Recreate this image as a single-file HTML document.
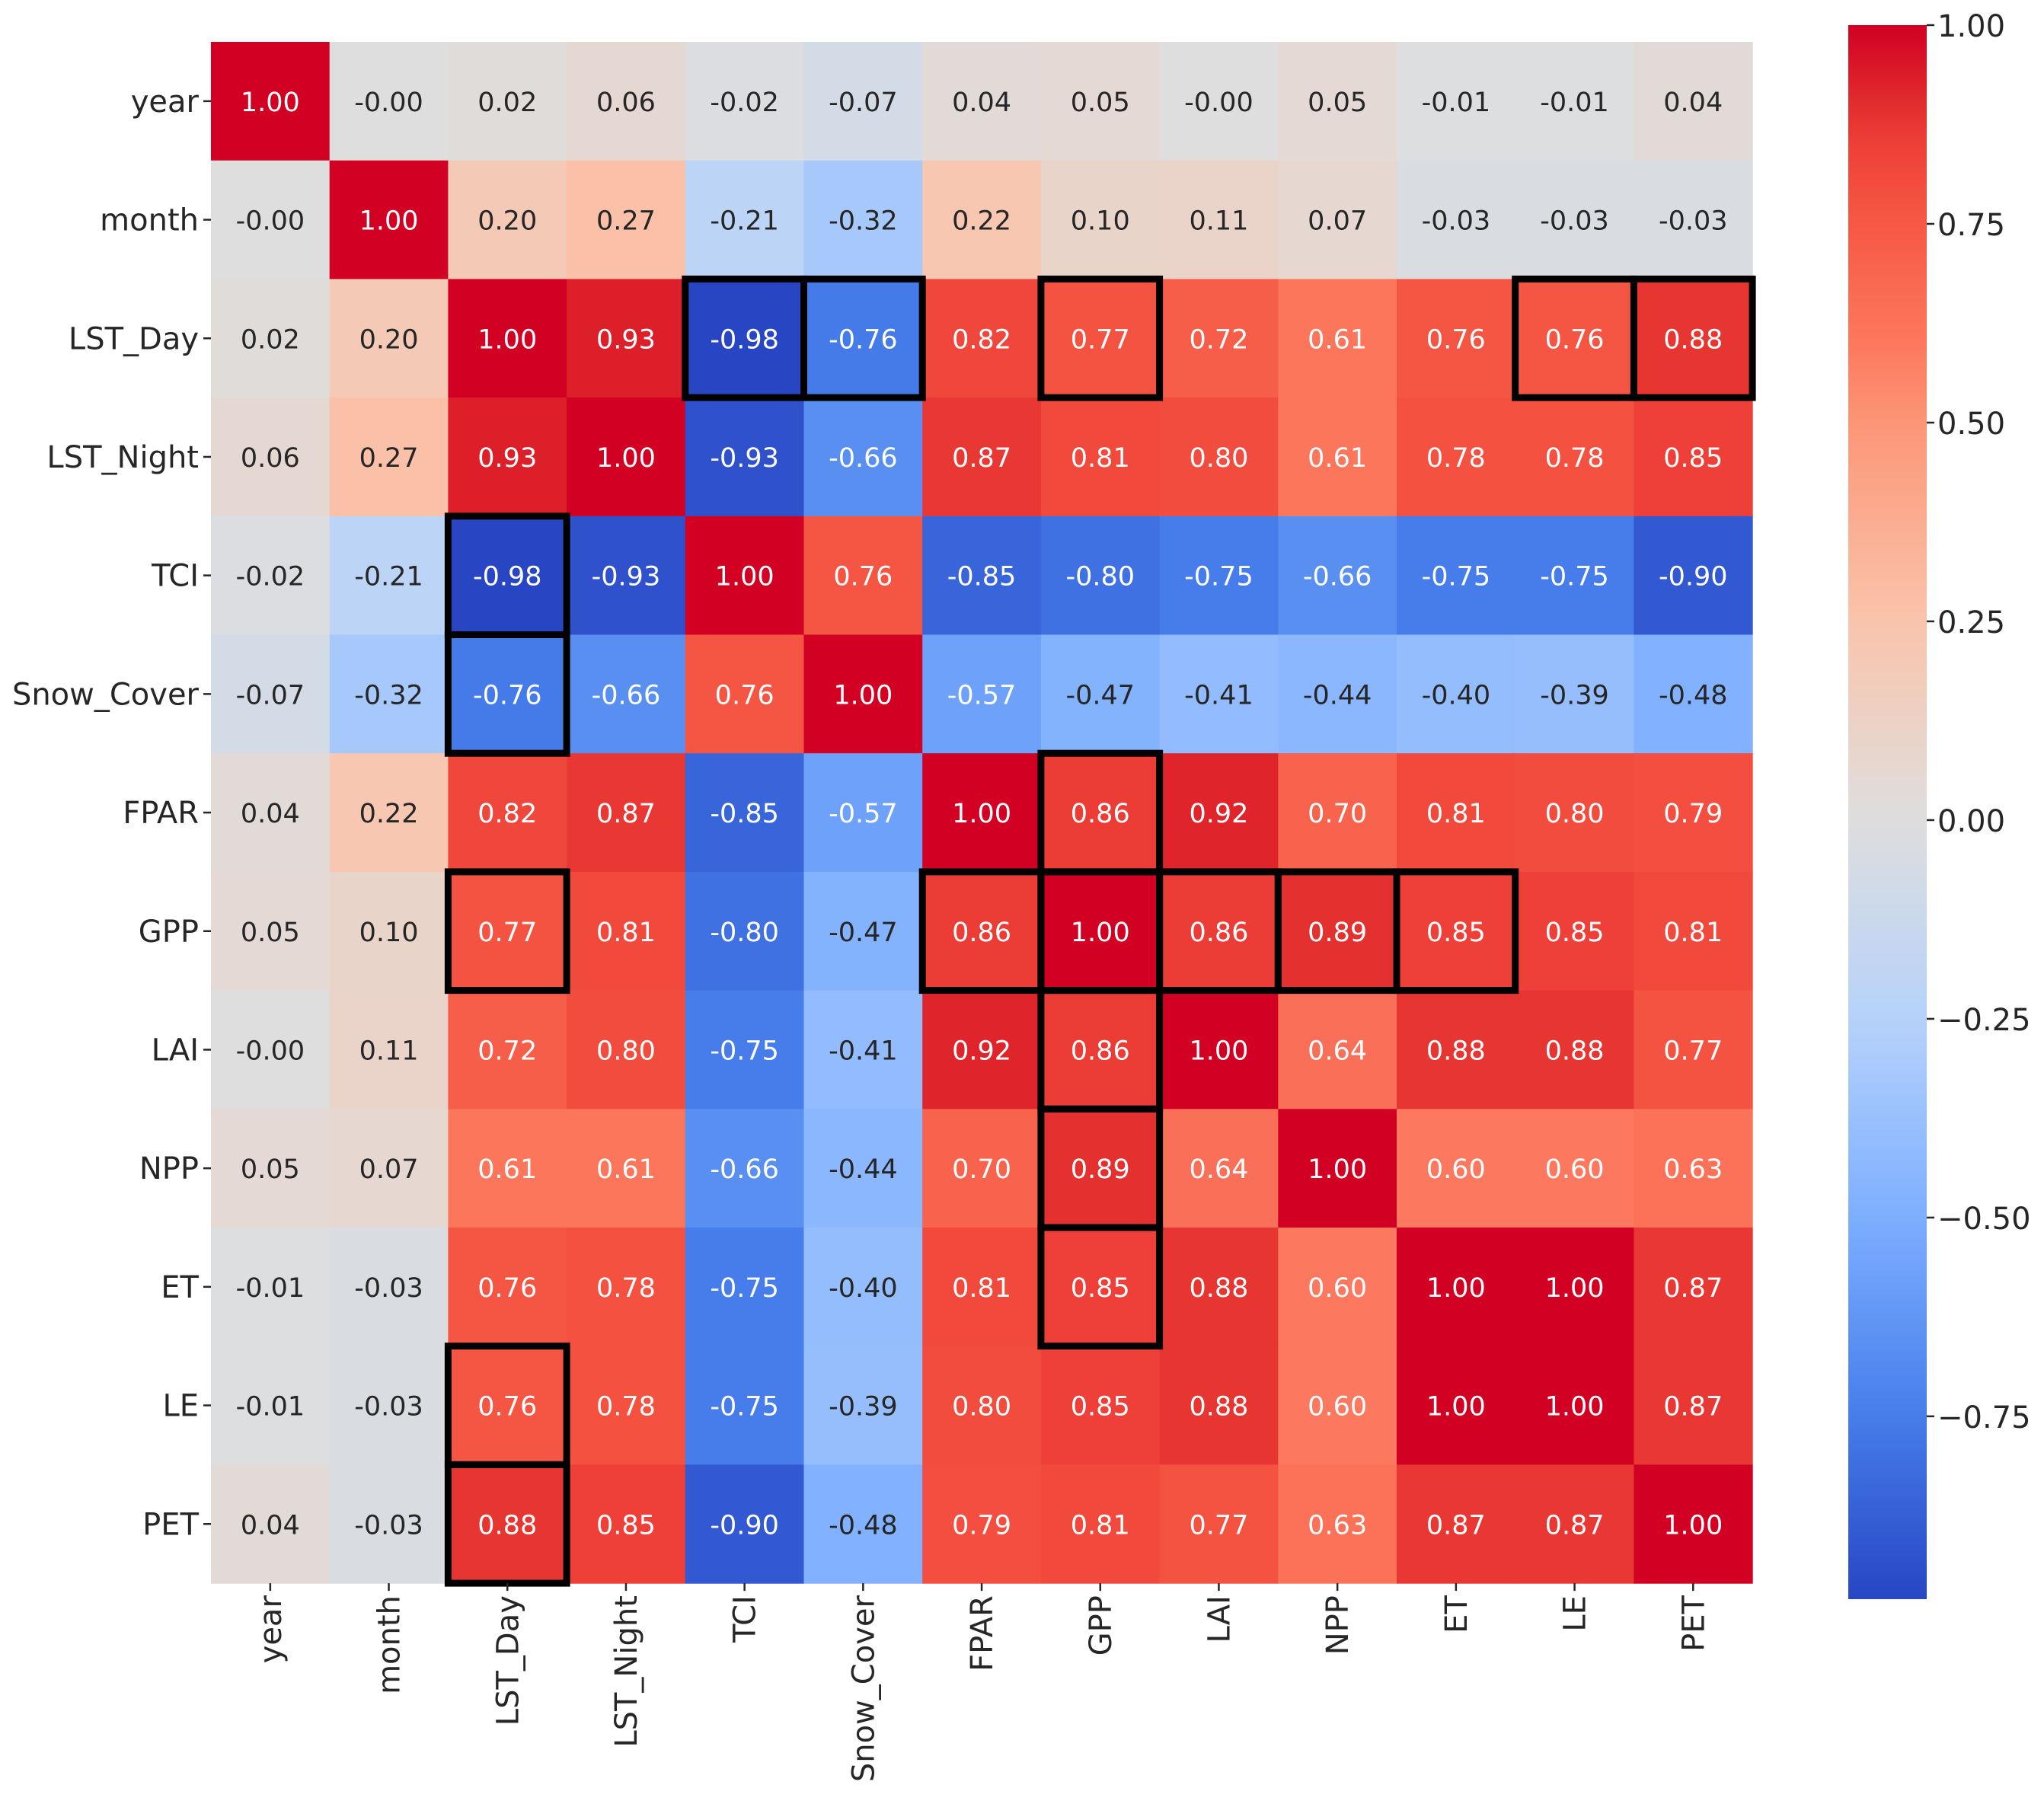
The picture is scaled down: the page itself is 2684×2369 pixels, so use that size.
<!DOCTYPE html>
<html><head><meta charset="utf-8"><style>
html,body{margin:0;padding:0;background:#fff;}
svg{display:block;font-family:"DejaVu Sans","Liberation Sans",sans-serif;}
</style></head><body>
<svg id="chart" width="2684" height="2369" viewBox="0 0 2684 2369">
<defs><linearGradient id="cbgrad" x1="0" y1="1" x2="0" y2="0"></linearGradient></defs>
<g id="cells"></g>
<g id="boxes"></g>
<g id="ylabels"></g>
<g id="xlabels"></g>
<g id="colorbar"></g>
</svg>
<script>
const labels = ["year","month","LST_Day","LST_Night","TCI","Snow_Cover","FPAR","GPP","LAI","NPP","ET","LE","PET"];
const rowYear = [1.00,-0.001,0.02,0.06,-0.02,-0.07,0.04,0.05,-0.001,0.05,-0.01,-0.01,0.04];
const rowMonth = [-0.001,1.00,0.20,0.27,-0.21,-0.32,0.22,0.10,0.11,0.07,-0.03,-0.03,-0.03];
const rowLSTDay = [0.02,0.20,1.00,0.93,-0.98,-0.76,0.82,0.77,0.72,0.61,0.76,0.76,0.88];
const rowLSTNight = [0.06,0.27,0.93,1.00,-0.93,-0.66,0.87,0.81,0.80,0.61,0.78,0.78,0.85];
const rowTCI = [-0.02,-0.21,-0.98,-0.93,1.00,0.76,-0.85,-0.80,-0.75,-0.66,-0.75,-0.75,-0.90];
const rowSnow = [-0.07,-0.32,-0.76,-0.66,0.76,1.00,-0.57,-0.47,-0.41,-0.44,-0.40,-0.39,-0.48];
const rowFPAR = [0.04,0.22,0.82,0.87,-0.85,-0.57,1.00,0.86,0.92,0.70,0.81,0.80,0.79];
const rowGPP = [0.05,0.10,0.77,0.81,-0.80,-0.47,0.86,1.00,0.86,0.89,0.85,0.85,0.81];
const rowLAI = [-0.001,0.11,0.72,0.80,-0.75,-0.41,0.92,0.86,1.00,0.64,0.88,0.88,0.77];
const rowNPP = [0.05,0.07,0.61,0.61,-0.66,-0.44,0.70,0.89,0.64,1.00,0.60,0.60,0.63];
const rowET = [-0.01,-0.03,0.76,0.78,-0.75,-0.40,0.81,0.85,0.88,0.60,1.00,1.00,0.87];
const rowLE = [-0.01,-0.03,0.76,0.78,-0.75,-0.39,0.80,0.85,0.88,0.60,1.00,1.00,0.87];
const rowPET = [0.04,-0.03,0.88,0.85,-0.90,-0.48,0.79,0.81,0.77,0.63,0.87,0.87,1.00];
const matrix = [rowYear,rowMonth,rowLSTDay,rowLSTNight,rowTCI,rowSnow,rowFPAR,rowGPP,rowLAI,rowNPP,rowET,rowLE,rowPET];
const highlightRows = [2,2,2,2,2,4,5,6,7,7,7,7,7,7,8,9,10,11,12];
const highlightCols = [4,5,7,11,12,2,2,7,2,6,7,8,9,10,7,7,7,2,2];
const cbTicks = [1.00,0.75,0.50,0.25,0.00,-0.25,-0.50,-0.75];
const vmin = -0.98, vmax = 1.0;

const NS = "http://www.w3.org/2000/svg";
const X0 = 277, Y0 = 55, CELL = 155.7;
const n = labels.length;
const xPos = i => X0 + i*CELL;
const yPos = i => Y0 + i*CELL;
const CB_X = 2427, CB_W = 103, CB_TOP = 33, CB_BOT = 2100;
const cbY = v => CB_TOP + (vmax - v)/(vmax - vmin)*(CB_BOT - CB_TOP);

const stops = [[-0.98,[40,70,195]],[-0.75,[70,125,235]],[-0.5,[125,175,255]],[-0.25,[182,210,250]],[0,[222,222,222]],[0.25,[250,196,172]],[0.5,[251,150,118]],[0.6,[252,120,94]],[0.75,[246,88,68]],[0.85,[238,64,56]],[0.9,[226,45,45]],[1.0,[210,0,35]]];
function color(v){
  if(v<=stops[0][0]) return stops[0][1];
  for(let i=1;i<stops.length;i++){
    if(v<=stops[i][0]){
      const [a,ca]=stops[i-1],[b,cb]=stops[i];const t=(v-a)/(b-a);
      return ca.map((c,k)=>Math.round(c+(cb[k]-c)*t));
    }
  }
  return stops[stops.length-1][1];
}
function lum(c){
  const f=x=>{x/=255;return x<=0.03928?x/12.92:Math.pow((x+0.055)/1.055,2.4);};
  return 0.2126*f(c[0])+0.7152*f(c[1])+0.0722*f(c[2]);
}
function mk(tag,attrs,parent){const e=document.createElementNS(NS,tag);for(const k in attrs)e.setAttribute(k,attrs[k]);parent.appendChild(e);return e;}

const cells=document.getElementById('cells');
for(let r=0;r<n;r++){for(let c=0;c<n;c++){
  const v=matrix[r][c];const col=color(v);
  const rect=mk('rect',{x:xPos(c),y:yPos(r),width:CELL+0.6,height:CELL+0.6,fill:`rgb(${col})`},cells);
  
  
  const t=mk('text',{x:xPos(c)+CELL/2,y:yPos(r)+CELL/2+13,'text-anchor':'middle','font-size':35,fill:lum(col)>0.408?'#262626':'#fff'},cells);
  t.textContent=v.toFixed(2);
  
  
}}
const boxes=document.getElementById('boxes');
for(let i=0;i<highlightRows.length;i++){
  const b=mk('rect',{x:xPos(highlightCols[i]),y:yPos(highlightRows[i]),width:CELL,height:CELL,fill:'none',stroke:'#000','stroke-width':9},boxes);
  
  
}
const yl=document.getElementById('ylabels'), xl=document.getElementById('xlabels');
for(let i=0;i<n;i++){
  const cy=yPos(i)+CELL/2;
  mk('line',{x1:X0-10,x2:X0,y1:cy,y2:cy,stroke:'#262626','stroke-width':2.5},yl);
  const t=mk('text',{x:X0-16,y:cy+14,'text-anchor':'end','font-size':40,fill:'#262626'},yl);
  t.textContent=labels[i];
  
  
  const cx=xPos(i)+CELL/2, by=Y0+n*CELL;
  mk('line',{x1:cx,x2:cx,y1:by,y2:by+10,stroke:'#262626','stroke-width':2.5},xl);
  const u=mk('text',{x:0,y:0,'text-anchor':'end','font-size':40,fill:'#262626',transform:`translate(${cx+14},${by+16}) rotate(-90)`},xl);
  u.textContent=labels[i];
  
  
}
const grad=document.getElementById('cbgrad');
for(let k=0;k<=40;k++){
  const v=vmin+(vmax-vmin)*k/40;
  mk('stop',{offset:(k/40),'stop-color':`rgb(${color(v)})`},grad);
}
const cb=document.getElementById('colorbar');
const cbr=mk('rect',{x:CB_X,y:CB_TOP,width:CB_W,height:CB_BOT-CB_TOP,fill:'url(#cbgrad)'},cb);


for(const v of cbTicks){
  const y=cbY(v);
  mk('line',{x1:CB_X+CB_W,x2:CB_X+CB_W+10,y1:y,y2:y,stroke:'#262626','stroke-width':2.5},cb);
  const t=mk('text',{x:CB_X+CB_W+14,y:y+15,'font-size':40,fill:'#262626'},cb);
  t.textContent=v<0?'\u2212'+Math.abs(v).toFixed(2):v.toFixed(2);
  
  
}
</script>
</body></html>
